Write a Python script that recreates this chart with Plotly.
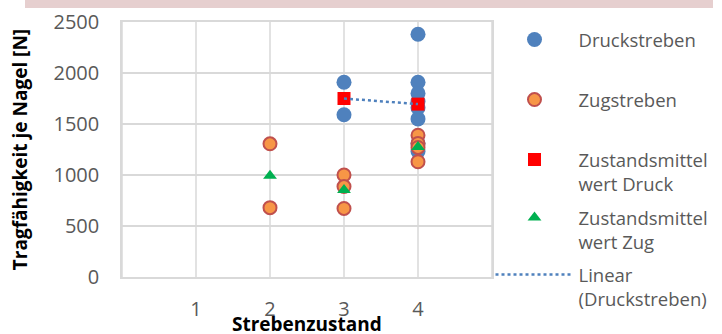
import numpy as np
import plotly.graph_objects as go

# Data
druck_x = [3, 3, 4, 4, 4, 4, 4, 4, 4, 4]
druck_y = [1910, 1590, 2380, 1910, 1800, 1720, 1660, 1550, 1310, 1230]
zug_x = [2, 2, 3, 3, 3, 4, 4, 4, 4]
zug_y = [1306, 680, 1000, 887, 672, 1390, 1310, 1270, 1130]
x_ticks = [1, 2, 3, 4]

names = ["Druckstreben", "Zugstreben", "Zustandsmittel<br>wert Druck",
         "Zustandsmittel<br>wert Zug", "Linear<br>(Druckstreben)"]

# derived: state means and linear trend of Druckstreben
def means(xs, ys):
    keys = sorted(set(xs))
    return keys, [float(np.mean([y for x, y in zip(xs, ys) if x == k])) for k in keys]

dm_x, dm_y = means(druck_x, druck_y)
zm_x, zm_y = means(zug_x, zug_y)
coef = np.polyfit(druck_x, druck_y, 1)
tr_x = [min(druck_x), max(druck_x)]
tr_y = list(np.polyval(coef, tr_x))

BLUE = "#4F81BD"
GRID = "#D9D9D9"
GREY = "#595959"
FONT = "Open Sans"

fig = go.Figure()
fig.add_trace(go.Scatter(x=druck_x, y=druck_y, mode="markers", name=names[0],
                         marker=dict(color=BLUE, size=15, line=dict(width=0)),
                         legend="legend"))
fig.add_trace(go.Scatter(x=zug_x, y=zug_y, mode="markers", name=names[1],
                         marker=dict(color="#F79646", size=13, line=dict(color="#C0504D", width=2)),
                         legend="legend2"))
fig.add_trace(go.Scatter(x=dm_x, y=dm_y, mode="markers", name=names[2],
                         marker=dict(color="#FF0000", symbol="square", size=13, line=dict(width=0)),
                         legend="legend3"))
fig.add_trace(go.Scatter(x=zm_x, y=zm_y, mode="markers", name=names[3],
                         marker=dict(color="#00B050", symbol="triangle-up", size=12, line=dict(width=0)),
                         legend="legend4"))
fig.add_trace(go.Scatter(x=tr_x, y=tr_y, mode="lines", name=names[4],
                         line=dict(color=BLUE, width=2.5, dash="dot"),
                         legend="legend5"))

L, R, T, B = 122, 230, 22, 57
W, H = 722, 334
ph = H - T - B
pw = W - L - R

def leg(top_px):
    return dict(xref="container", yref="container",
                x=490.5 / W, xanchor="left", y=1 - top_px / H, yanchor="top",
                valign="top", bgcolor="rgba(0,0,0,0)", itemwidth=78,
                font=dict(family=FONT, size=18.5, color=GREY))

fig.update_layout(
    width=W, height=H, showlegend=True,
    margin=dict(l=L, r=R, t=T, b=B, autoexpand=False),
    paper_bgcolor="white", plot_bgcolor="white",
    font=dict(family=FONT, color=GREY),
    legend=leg(21), legend2=leg(81), legend3=leg(141),
    legend4=leg(199), legend5=leg(256),
    shapes=[dict(type="rect", xref="paper", yref="paper",
                 x0=(25 - L) / pw, x1=(713 - L) / pw,
                 y0=(H - B - 8) / ph, y1=(H - B + 2) / ph,
                 fillcolor="#E6CFCF", line=dict(width=0), layer="below")],
    annotations=[dict(text="<b>Strebenzustand</b>", xref="paper", yref="paper",
                      x=0.5, y=(H - B - 324) / ph, xanchor="center", yanchor="middle",
                      showarrow=False, font=dict(family=FONT, size=19, color="black"))],
)
for v in [0, 1, 2, 3, 4, 5]:
    fig.add_vline(x=v, line=dict(color=GRID, width=1.5), layer="below")
fig.update_xaxes(range=[0, 5], tickvals=x_ticks, ticktext=[str(v) for v in x_ticks],
                 showgrid=False,
                 showline=True, mirror=True, linecolor=GRID, linewidth=1.5,
                 zeroline=False, ticks="", ticklabelstandoff=13,
                 tickfont=dict(family=FONT, size=20, color=GREY))
fig.update_yaxes(range=[0, 2500], dtick=500, tick0=0,
                 showgrid=True, gridcolor=GRID, gridwidth=1.5,
                 showline=True, mirror=True, linecolor=GRID, linewidth=1.5,
                 zeroline=False, ticks="", ticklabelstandoff=17,
                 tickfont=dict(family=FONT, size=20, color=GREY),
                 title=dict(text="<b>Tragfähigkeit je Nagel [N]</b>", standoff=21,
                            font=dict(family=FONT, size=19, color="black")))

fig.write_html("out.html", config={"displayModeBar": False},
               post_script="document.body.style.margin='0';")
